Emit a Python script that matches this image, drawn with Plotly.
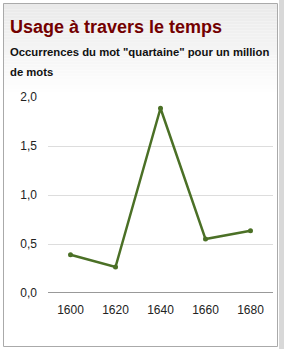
import plotly.graph_objects as go

years = ["1600", "1620", "1640", "1660", "1680"]
values = [0.39, 0.265, 1.885, 0.55, 0.635]
y_ticks = [0, 0.5, 1.0, 1.5, 2.0]
y_tick_labels = ["0,0", "0,5", "1,0", "1,5", "2,0"]

W, H = 286, 349
L, R, T, B = 48, 13, 97, 56
pw, ph = W - L - R, H - T - B

def px(x):
    return (x - L) / pw

def py(y):
    return (H - B - y) / ph

fig = go.Figure()
fig.add_trace(go.Scatter(
    x=years, y=values, mode="lines+markers",
    line=dict(color="#4b7026", width=2.5),
    marker=dict(color="#4b7026", size=5),
    hoverinfo="skip", showlegend=False,
))

shapes = []
# gradient header background
n = 30
top, bot = 3, 95
for i in range(n):
    y0 = top + (bot - top) * i / n
    y1 = top + (bot - top) * (i + 1) / n
    t = i / (n - 1)
    c = int(234 + (255 - 234) * t)
    shapes.append(dict(type="rect", xref="paper", yref="paper",
                       x0=px(3), x1=px(277), y0=py(y0), y1=py(y1),
                       fillcolor=f"rgb({c},{c},{c})", line=dict(width=0), layer="below"))
# card border
shapes.append(dict(type="rect", xref="paper", yref="paper",
                   x0=px(3.5), x1=px(277.5), y0=py(3.5), y1=py(346.5),
                   line=dict(color="#aaaaaa", width=1), fillcolor="rgba(0,0,0,0)"))
# right scroll strip
shapes.append(dict(type="rect", xref="paper", yref="paper",
                   x0=px(279), x1=px(284), y0=py(0), y1=py(349),
                   line=dict(width=0), fillcolor="#d8d8d8"))

annotations = [
    dict(text="<b>Usage à travers le temps</b>", xref="paper", yref="paper",
         x=px(8), y=py(27), xanchor="left", yanchor="middle", showarrow=False,
         font=dict(family="Liberation Sans, Arial", size=18, color="#730000")),
    dict(text="<b>Occurrences du mot \"quartaine\" pour un million</b>", xref="paper", yref="paper",
         x=px(8), y=py(52), xanchor="left", yanchor="middle", showarrow=False,
         font=dict(family="Liberation Sans, Arial", size=11.3, color="#111111")),
    dict(text="<b>de mots</b>", xref="paper", yref="paper",
         x=px(8), y=py(71.5), xanchor="left", yanchor="middle", showarrow=False,
         font=dict(family="Liberation Sans, Arial", size=11.3, color="#111111")),
]

fig.update_layout(
    width=W, height=H,
    margin=dict(l=L, r=R, t=T, b=B, pad=0),
    paper_bgcolor="white", plot_bgcolor="rgba(0,0,0,0)",
    shapes=shapes, annotations=annotations,
    font=dict(family="Liberation Sans, Arial", size=12, color="#333333"),
    xaxis=dict(type="category", range=[-0.5, 4.5], showgrid=False, zeroline=False,
               showline=False, ticks="", ticklabelstandoff=8,
               tickfont=dict(size=12, color="#222222")),
    yaxis=dict(range=[0, 2.0], tickvals=y_ticks, ticktext=y_tick_labels,
               showgrid=True, gridcolor="#dddddd", gridwidth=1, zeroline=False,
               showline=False, ticks="", ticklabelstandoff=10,
               tickfont=dict(size=12, color="#222222")),
)
fig.add_shape(type="line", xref="paper", yref="y", x0=0, x1=1, y0=0, y1=0,
              line=dict(color="#333333", width=1))

fig.write_html("out.html")
